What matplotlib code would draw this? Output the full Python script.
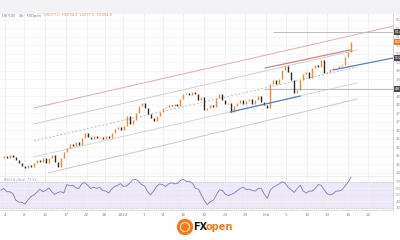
import matplotlib
matplotlib.use("Agg")
import matplotlib.pyplot as plt
from matplotlib.patches import Ellipse, Rectangle
from matplotlib.ticker import MultipleLocator, FormatStrFormatter

# 4h candles, closing prices (open = previous close)
closes = [4550, 4559, 4550, 4564, 4555, 4541, 4527, 4512, 4503, 4517,
          4508, 4527, 4541, 4531, 4550, 4527, 4550, 4564, 4531, 4508,
          4550, 4578, 4597, 4616, 4606, 4625, 4611, 4644, 4668, 4649,
          4639, 4653, 4644, 4649, 4639, 4653, 4644, 4668, 4686, 4696,
          4682, 4700, 4747, 4710, 4729, 4762, 4794, 4809, 4785, 4757,
          4738, 4724, 4747, 4766, 4785, 4790, 4799, 4794, 4804, 4794,
          4827, 4851, 4856, 4846, 4860, 4851, 4823, 4837, 4776, 4785,
          4799, 4790, 4832, 4851, 4823, 4804, 4809, 4766, 4794, 4809,
          4823, 4804, 4818, 4827, 4804, 4823, 4841, 4813, 4799, 4785,
          4898, 4917, 4898, 4921, 4964, 4982, 4954, 4917, 4856, 4870,
          4917, 4945, 4954, 4926, 4973, 4987, 4978, 5011, 4950, 4954,
          4968, 4973, 4973, 4982, 4987, 5025, 5048, 5095]

rsi = [57.5, 60, 55, 55, 52, 42, 39, 39, 36, 42,
       47.5, 50, 54, 59, 55, 57, 61, 55, 51, 54,
       55, 53, 66, 64, 65, 61, 60, 67, 69, 65,
       60, 62, 60, 62, 57, 56, 53, 59, 63, 65,
       67.5, 63, 64, 68, 73, 74, 71, 66, 64, 55,
       50, 56, 63, 67, 66, 63, 67, 69, 67, 68,
       72.5, 74, 71, 71, 68, 60, 59, 50, 41, 35,
       40, 42, 50, 58, 57, 51, 49, 51, 53, 57,
       60, 62, 58, 59, 57, 56, 60, 60, 51, 45,
       57.5, 62, 64.5, 67, 70.5, 68, 61.5, 58, 54, 60,
       65, 56, 53, 56, 56, 60, 66, 65, 58, 52,
       50, 52, 56, 56, 58, 64, 70, 77.5]

date_ticks = [1.3, 7.7, 14.7, 21.7, 28.7, 34.7, 40.7, 47.7, 54.3, 61,
              68, 75, 81.7, 88.7, 95.3, 102.3, 109, 116, 122.7]
date_labels = ["4", "8", "12", "17", "22", "28", "2024", "7", "11", "16",
               "20", "23", "29", "Feb", "5", "10", "13", "18", "22"]

# drawn lines: (bar, price) start and end
channel_top = [(11, 4785), (131, 5170)]
channel_upper = [(11, 4710), (119, 5058)]
channel_mid = [(11, 4630), (119, 4978)]
channel_lower = [(11, 4555), (119, 4903)]
channel_bottom = [(16, 4480), (119, 4827)]
resistance = [(88.3, 4973), (116.7, 5058)]
support_1 = [(76.7, 4766), (100, 4841)]
support_2 = [(111, 4964), (131, 5020)]
level_high = 5142
level_low = 4874
level_high_start = 91
level_low_start = 88

up_col = "#ef8a3c"
down_col = "#2b2b2b"

fig = plt.figure(figsize=(4, 2.4), dpi=100)
fig.patches.append(Rectangle((0, 1 - 13 / 240), 1, 13 / 240,
                             transform=fig.transFigure, color="#f3f3f5",
                             zorder=0))

ax = fig.add_axes([0, 1 - 176 / 240, 393 / 400, 162 / 240])
rax = fig.add_axes([0, 1 - 210 / 240, 393 / 400, 34 / 240], sharex=ax)

n = len(closes)
bars = list(range(n))
opens = [closes[0]] + closes[:-1]
for i in bars:
    o, c = opens[i], closes[i]
    col = up_col if c >= o else down_col
    lo, hi = min(o, c), max(o, c)
    if hi - lo < 2:
        hi += 1
        lo -= 1
    ax.vlines(i, lo, hi, color=col, linewidth=1.0, zorder=3)

for line, col, ls in [(channel_top, "#dcb0ad", "-"),
                      (channel_upper, "#cfcfcf", "-"),
                      (channel_mid, "#bdbdbd", (0, (2, 2))),
                      (channel_lower, "#d6d6d6", "-"),
                      (channel_bottom, "#c8c8c8", "-")]:
    ax.plot([line[0][0], line[1][0]], [line[0][1], line[1][1]],
            color=col, linewidth=0.7, linestyle=ls, zorder=2)

ax.plot([p[0] for p in resistance], [p[1] for p in resistance],
        color="#c98a80", linewidth=0.9, zorder=4)
for sup in (support_1, support_2):
    ax.plot([p[0] for p in sup], [p[1] for p in sup],
            color="#5b80b8", linewidth=0.9, zorder=4)
ax.hlines([level_high, level_low], [level_high_start, level_low_start], 131,
          color="#bdbdbd", linewidth=0.7, zorder=2)

ax.set_xlim(-0.3, 131)
ax.set_ylim(4465, 5227)
rax.set_ylim(26.9, 79.2)

for a in (ax, rax):
    a.set_facecolor("none")
    for s in ("top", "left", "bottom"):
        a.spines[s].set_visible(False)
    a.spines["right"].set_color("#cfcfcf")
    a.spines["right"].set_linewidth(0.6)
    a.yaxis.tick_right()
    a.tick_params(axis="y", labelsize=2.8, colors="#9a9a9a", length=0,
                  pad=2)
    a.set_xticks(date_ticks)
    a.grid(axis="x", color="#efeff2", linewidth=0.6)
    a.grid(axis="y", color="#f3f3f5", linewidth=0.5)

ax.yaxis.set_major_locator(MultipleLocator(40))
ax.yaxis.set_major_formatter(FormatStrFormatter("%.1f"))
ax.tick_params(axis="x", bottom=False, labelbottom=False)

rax.set_yticks([30, 40, 50, 60, 70])
rax.set_xticklabels(date_labels)
rax.tick_params(axis="x", labelsize=3, colors="#8a8a8a", length=0, pad=2.5)
rax.spines["bottom"].set_visible(True)
rax.spines["bottom"].set_color("#d9d9de")
rax.spines["bottom"].set_linestyle((0, (1, 1)))
rax.spines["bottom"].set_linewidth(0.6)
rax.spines["top"].set_visible(True)
rax.spines["top"].set_color("#e6e6ea")
rax.spines["top"].set_linewidth(0.5)

rax.axhspan(30, 70, color="#ede8f7", zorder=0)
rax.axhline(70, color="#b8b2c8", linewidth=0.4, linestyle=(0, (2, 2)))
rax.axhline(30, color="#b8b2c8", linewidth=0.4, linestyle=(0, (2, 2)))
rax.axhline(50, color="#d6d0e2", linewidth=0.4, linestyle=(0, (2, 2)))
rax.plot(bars, rsi, color="#8378b4", linewidth=0.6, zorder=3)

# price tags on the right scale
ytr = ax.get_yaxis_transform()
for val, col in [(level_high, "#4a4a4a"), (closes[-1], "#f07a2a"),
                 (support_2[1][1], "#4a4a4a"), (level_low, "#4a4a4a")]:
    ax.text(1.004, val, f"{val:.1f}", transform=ytr, fontsize=2.8,
            color="white", va="center", ha="left", clip_on=False,
            bbox=dict(boxstyle="square,pad=0.25", fc=col, ec="none"))

# header legend
fig.text(2 / 400, 1 - 15.5 / 240, "US 500 · 4h · FXOpen",
         fontsize=2.6, color="#7a7a7a", va="center")
fig.text(44 / 400, 1 - 15.5 / 240,
         "O5077.0  H5094.2  L5077.0  C5094.8",
         fontsize=2.6, color="#e0a060", va="center")
fig.text(4 / 400, 1 - 180 / 240, "RSI 14 close  77.52",
         fontsize=2.4, color="#9a8fc0", va="center")

# logo
fig.patches.append(Ellipse((185 / 400, 1 - 227 / 240), 15 / 400, 15 / 240,
                           transform=fig.transFigure, color="#f07a1e"))
fig.patches.append(Ellipse((185 / 400, 1 - 227 / 240), 9 / 400, 9 / 240,
                           transform=fig.transFigure, fill=False,
                           ec="#fde3cc", lw=0.8))
fig.text(193 / 400, 1 - 227.5 / 240, "FX", fontsize=7, fontweight="bold",
         color="#1a1a1a", va="center", ha="left")
fig.text(206 / 400, 1 - 227.5 / 240, "open", fontsize=7, fontweight="bold",
         color="#f07a1e", va="center", ha="left")

fig.savefig("out.png", dpi=100)
